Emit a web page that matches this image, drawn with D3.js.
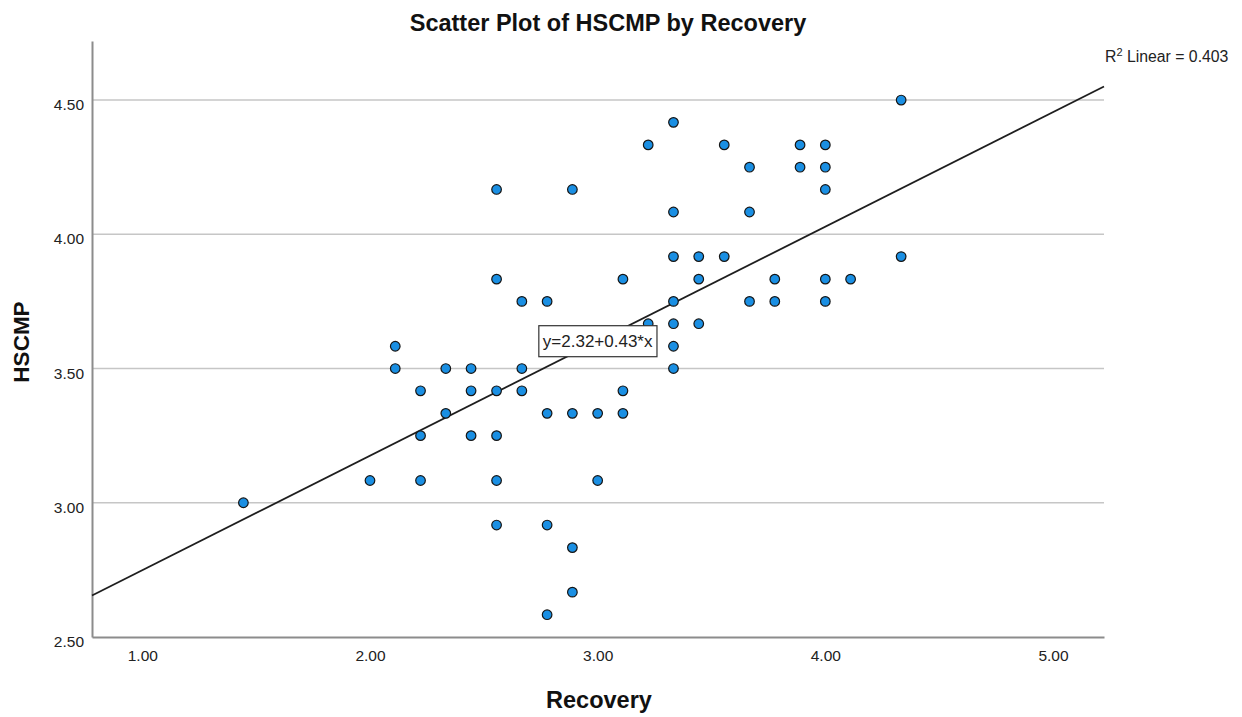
<!DOCTYPE html>
<html>
<head>
<meta charset="utf-8">
<script src="https://cdn.jsdelivr.net/npm/d3@7"></script>
<style>
  html, body { margin: 0; padding: 0; background: #fff; }
  svg { display: block; font-family: Arial, "Liberation Sans", sans-serif; }
</style>
</head>
<body>
<svg id="chart" width="1242" height="717"></svg>
<script>
// Recovery (x) and HSCMP (y) scores, one entry per respondent
const recovery = [
  1.444, 2.000, 2.111, 2.111, 2.222, 2.222, 2.222, 2.333, 2.333,
  2.444, 2.444, 2.444, 2.556, 2.556, 2.556, 2.556, 2.556, 2.556,
  2.667, 2.667, 2.667, 2.778, 2.778, 2.778, 2.778,
  2.889, 2.889, 2.889, 2.889, 3.000, 3.000,
  3.111, 3.111, 3.111, 3.222, 3.222,
  3.333, 3.333, 3.333, 3.333, 3.333, 3.333, 3.333,
  3.444, 3.444, 3.444, 3.556, 3.556,
  3.667, 3.667, 3.667, 3.778, 3.778, 3.889, 3.889,
  4.000, 4.000, 4.000, 4.000, 4.000, 4.111, 4.333, 4.333
];
const hscmp = [
  3.000, 3.083, 3.583, 3.500, 3.417, 3.250, 3.083, 3.500, 3.333,
  3.500, 3.417, 3.250, 4.167, 3.833, 3.417, 3.250, 3.083, 2.917,
  3.750, 3.500, 3.417, 3.750, 3.333, 2.917, 2.583,
  4.167, 3.333, 2.833, 2.667, 3.333, 3.083,
  3.833, 3.417, 3.333, 4.333, 3.667,
  4.417, 4.083, 3.917, 3.750, 3.667, 3.583, 3.500,
  3.917, 3.833, 3.667, 4.333, 3.917,
  4.250, 4.083, 3.750, 3.833, 3.750, 4.333, 4.250,
  4.333, 4.250, 4.167, 3.833, 3.750, 3.833, 4.500, 3.917
];

// Linear fit line: HSCMP = intercept + slope * Recovery
const fitIntercept = 2.322;
const fitSlope = 0.4266;
const rSquared = 0.403;

const xTicks = [1, 2, 3, 4, 5];
const yTicks = [2.5, 3.0, 3.5, 4.0, 4.5];

const titleText = "Scatter Plot of HSCMP by Recovery";
const xTitle = "Recovery";
const yTitle = "HSCMP";

const svg = d3.select("#chart");
const plot = { left: 92, right: 1104, top: 41, bottom: 637 };

const x = d3.scaleLinear().domain([0.779, 5.224]).range([plot.left, plot.right]);
const y = d3.scaleLinear().domain([2.5, 4.72]).range([plot.bottom, plot.top]);
const fmt = d3.format(".2f");

// horizontal grid lines
svg.append("g")
  .selectAll("line")
  .data(yTicks.filter(d => d > y.domain()[0]))
  .join("line")
  .attr("x1", plot.left).attr("x2", plot.right)
  .attr("y1", d => y(d)).attr("y2", d => y(d))
  .attr("stroke", "#c6c6c6")
  .attr("stroke-width", 1.6);

// axes
const yAxis = svg.append("g")
  .attr("transform", `translate(${plot.left},0)`)
  .call(d3.axisLeft(y).tickValues(yTicks).tickFormat(fmt).tickSizeInner(0).tickSizeOuter(0).tickPadding(8));
const xAxis = svg.append("g")
  .attr("transform", `translate(0,${plot.bottom})`)
  .call(d3.axisBottom(x).tickValues(xTicks).tickFormat(fmt).tickSizeInner(0).tickSizeOuter(0).tickPadding(13));

[yAxis, xAxis].forEach(g => {
  g.select(".domain").attr("stroke", "#8c8c8c").attr("stroke-width", 2);
  g.selectAll(".tick text")
    .attr("fill", "#222")
    .style("font-size", "15.5px")
    .style("font-family", "Arial, 'Liberation Sans', sans-serif");
});
yAxis.selectAll(".tick text").attr("dy", "0.62em");

// fit line across the whole x range
const xd = x.domain();
svg.append("line")
  .attr("x1", x(xd[0])).attr("y1", y(fitIntercept + fitSlope * xd[0]))
  .attr("x2", x(xd[1])).attr("y2", y(fitIntercept + fitSlope * xd[1]))
  .attr("stroke", "#1e1e1e")
  .attr("stroke-width", 1.8);

// points
svg.append("g")
  .selectAll("circle")
  .data(recovery.map((r, i) => [r, hscmp[i]]))
  .join("circle")
  .attr("cx", d => x(d[0]))
  .attr("cy", d => y(d[1]))
  .attr("r", 4.8)
  .attr("fill", "#1a8fe3")
  .attr("stroke", "#151515")
  .attr("stroke-width", 1.2);

// equation label, centred on the fit line at x = 3
const eqX = 3;
const eqG = svg.append("g")
  .attr("transform", `translate(${x(eqX)},${y(fitIntercept + fitSlope * eqX)})`);
const eqRect = eqG.append("rect").attr("fill", "#fff").attr("stroke", "#333").attr("stroke-width", 1.2);
const eqText = eqG.append("text")
  .attr("text-anchor", "middle")
  .attr("dy", "0.36em")
  .attr("fill", "#222")
  .style("font-size", "17px")
  .text(`y=${fmt(fitIntercept)}+${fmt(fitSlope)}*x`);
const bb = eqText.node().getBBox();
eqRect.attr("x", bb.x - 4).attr("y", -15.5).attr("width", bb.width + 8).attr("height", 31);

// R squared annotation
const r2 = svg.append("text")
  .attr("x", plot.right + 1)
  .attr("y", 62)
  .attr("fill", "#222")
  .style("font-size", "15.8px");
r2.append("tspan").text("R");
r2.append("tspan").attr("dy", -6).style("font-size", "11px").text("2");
r2.append("tspan").attr("dy", 6).text(` Linear = ${d3.format(".3f")(rSquared)}`);

// titles
svg.append("text")
  .attr("x", 608).attr("y", 31)
  .attr("text-anchor", "middle")
  .attr("font-weight", "bold")
  .attr("fill", "#111")
  .style("font-size", "23.5px")
  .text(titleText);

svg.append("text")
  .attr("x", 599).attr("y", 708)
  .attr("text-anchor", "middle")
  .attr("font-weight", "bold")
  .attr("fill", "#111")
  .style("font-size", "23.5px")
  .text(xTitle);

svg.append("text")
  .attr("transform", "translate(29,342) rotate(-90)")
  .attr("text-anchor", "middle")
  .attr("font-weight", "bold")
  .attr("fill", "#111")
  .style("font-size", "22.5px")
  .text(yTitle);
</script>
</body>
</html>
